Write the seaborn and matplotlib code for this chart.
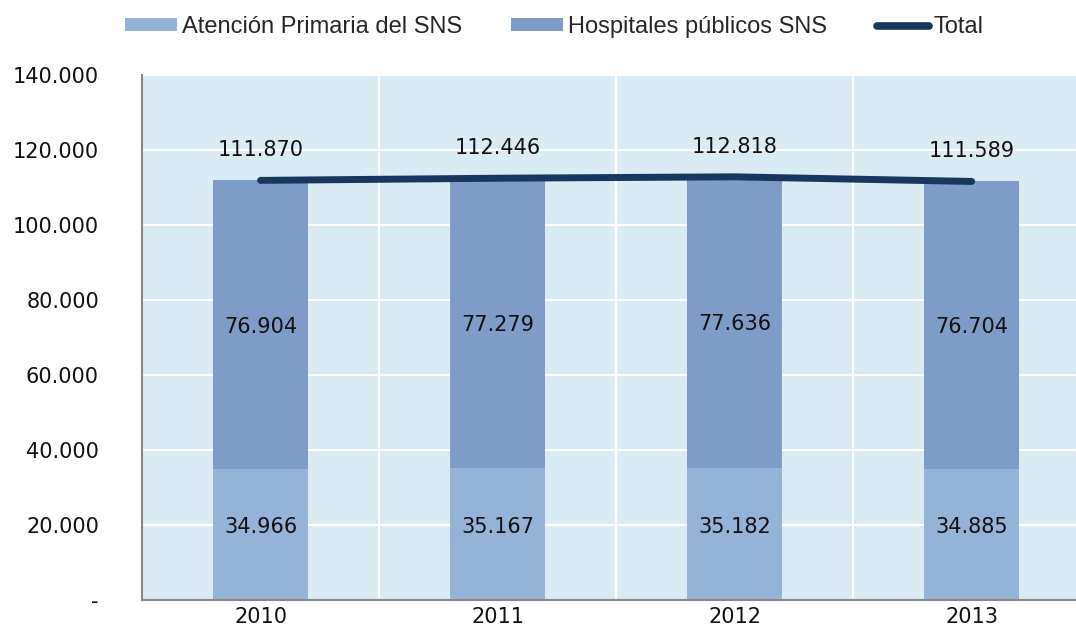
import numpy as np
import pandas as pd
import seaborn as sns
import matplotlib.pyplot as plt
from matplotlib.patches import Patch
from matplotlib.lines import Line2D
from matplotlib.ticker import FuncFormatter

years = ["2010", "2011", "2012", "2013"]
primaria = [34966, 35167, 35182, 34885]
hospitales = [76904, 77279, 77636, 76704]
total = [111870, 112446, 112818, 111589]

c_prim = "#95B3D7"
c_hosp = "#7F9CC8"
c_total = "#17375E"
c_bg = "#DAECF3"

sns.set_style("white")
plt.rcParams["font.family"] = ["DejaVu Sans"]

df = pd.DataFrame({"year": years, "prim": primaria, "hosp": hospitales, "total": total})
df["pos"] = np.arange(len(years))

fig = plt.figure(figsize=(10.76, 6.29), dpi=100)
ax = fig.add_axes([0.132, 0.046, 0.868, 0.835])
ax.set_facecolor(c_bg)

# stacked: draw full height with hospital colour, then primary over it
sns.barplot(data=df, x="year", y="total", color=c_hosp, width=0.4, saturation=1,
            linewidth=0, edgecolor="none", ax=ax)
sns.barplot(data=df, x="year", y="prim", color=c_prim, width=0.4, saturation=1,
            linewidth=0, edgecolor="none", ax=ax)
sns.lineplot(data=df, x="pos", y="total", color=c_total, linewidth=5,
             solid_capstyle="round", ax=ax, zorder=5)

fmt = lambda v: f"{v:,}".replace(",", ".")
for i in range(len(years)):
    ax.text(i, primaria[i] / 2 + 2000, fmt(primaria[i]),
            ha="center", va="center", fontsize=15, color="#111111")
    ax.text(i, primaria[i] + hospitales[i] / 2 - 500, fmt(hospitales[i]),
            ha="center", va="center", fontsize=15, color="#111111")
    ax.text(i, total[i] + 8000, fmt(total[i]),
            ha="center", va="center", fontsize=15, color="#111111")

ax.set_ylim(0, 140000)
ax.set_xlim(-0.5, 3.44)
ax.set_yticks(np.arange(0, 140001, 20000))
ax.yaxis.set_major_formatter(FuncFormatter(
    lambda v, p: "-" if v == 0 else fmt(int(v))))
ax.set_xticks(np.arange(len(years)))
ax.set_xticklabels(years)
ax.set_xlabel("")
ax.set_ylabel("")
ax.tick_params(axis="both", labelsize=15, colors="#111111")
ax.tick_params(axis="y", length=5, color="#888888", width=1.2, pad=26)
ax.tick_params(axis="x", length=0, pad=5)
ax.set_xticks(np.arange(-0.5, 3.5, 1), minor=True)
ax.tick_params(axis="x", which="minor", length=6, color="#888888", width=1.2)

ax.grid(axis="y", color="white", linewidth=1.5)
ax.grid(axis="x", which="minor", color="white", linewidth=1.5)
ax.grid(axis="x", which="major", visible=False)
ax.set_axisbelow(True)

for s in ["top", "right"]:
    ax.spines[s].set_visible(False)
for s in ["left", "bottom"]:
    ax.spines[s].set_color("#888888")
    ax.spines[s].set_linewidth(1.5)

handles = [Patch(facecolor=c_prim, edgecolor="none"),
           Patch(facecolor=c_hosp, edgecolor="none"),
           Line2D([0], [0], color=c_total, linewidth=5.5, solid_capstyle="round")]
labels = ["Atención Primaria del SNS", "Hospitales públicos SNS", "Total"]
fig.legend(handles, labels, loc="center", bbox_to_anchor=(0.515, 0.957), ncol=3,
           frameon=False, handlelength=2.2, handleheight=0.47,
           handletextpad=0.2, columnspacing=2.1, borderpad=0,
           prop={"family": "Liberation Sans", "size": 17})

fig.savefig("out.png", dpi=100)
